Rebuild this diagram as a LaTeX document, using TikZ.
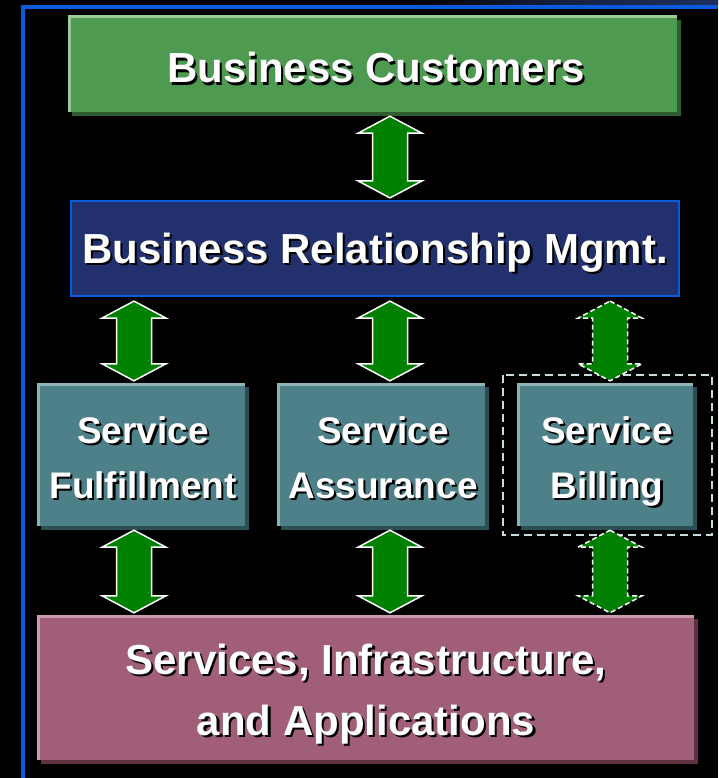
\documentclass[tikz,border=0pt]{standalone}
\usepackage{fontspec}
\setmainfont{Liberation Sans}
\usetikzlibrary{calc,shadows}
\definecolor{frameblue}{HTML}{0A5CDB}
\definecolor{topstrip}{HTML}{1F2E5E}
\definecolor{gfill}{HTML}{4F9A51}
\definecolor{glight}{HTML}{9ACB96}
\definecolor{gshadow}{HTML}{2E5E30}
\definecolor{navy}{HTML}{22306E}
\definecolor{tfill}{HTML}{4D8088}
\definecolor{tlight}{HTML}{8DB3B8}
\definecolor{tshadow}{HTML}{2C4F56}
\definecolor{mfill}{HTML}{A05E78}
\definecolor{mlight}{HTML}{C89AAE}
\definecolor{mshadow}{HTML}{5E3244}
\definecolor{agreen}{HTML}{008000}
\definecolor{dashcol}{HTML}{C8DCDC}
\tikzset{
  bevelbox/.style n args={3}{rectangle, inner sep=0pt, fill=#1,
    drop shadow={shadow xshift=4pt, shadow yshift=-4pt, fill=#3, opacity=1},
    path picture={\draw[#2,line width=5pt]
      (path picture bounding box.south west) -- (path picture bounding box.north west)
      -- (path picture bounding box.north east);}},
  navybox/.style={rectangle, inner sep=0pt, fill=navy, draw=frameblue, line width=2.2pt},
  txt/.style={anchor=base, text=white, inner sep=0pt},
  txtshadow/.style={anchor=base, text=black, inner sep=0pt},
  bigfont/.style={font=\fontsize{42}{50}\selectfont\bfseries},
  midfont/.style={font=\fontsize{37}{44}\selectfont\bfseries},
  blockarrow/.style={fill=agreen, draw=white, line width=1.5pt, line join=miter},
  dasharrow/.style={fill=agreen, draw=white, line width=1.5pt, dash pattern=on 5pt off 3pt},
  dashframe/.style={draw=dashcol, line width=2pt, dash pattern=on 8pt off 5pt}
}
% label with drop shadow: name, x, baseline y, font style, text
\newcommand\shlabel[5]{%
  \node[txtshadow,#4] at (#2+2.2,#3+2.2) {#5};
  \node[txt,#4] (#1) at (#2,#3) {#5};}
% double block arrow: style, x, upper node, lower node
\newcommand\dblarrow[4]{%
  \draw[#1] let \p1=(#3.south), \p2=(#4.north) in
    ({#2pt},{\y1-4pt}) -- ({#2pt+32pt},{\y1-21pt}) -- ({#2pt+17.5pt},{\y1-21pt})
    -- ({#2pt+17.5pt},{\y2+19pt}) -- ({#2pt+32pt},{\y2+19pt}) -- ({#2pt},{\y2+2pt})
    -- ({#2pt-32pt},{\y2+19pt}) -- ({#2pt-17.5pt},{\y2+19pt}) -- ({#2pt-17.5pt},{\y1-21pt})
    -- ({#2pt-32pt},{\y1-21pt}) -- cycle;}
\begin{document}
\begin{tikzpicture}[x=1pt,y=-1pt]
\fill[black] (0,0) rectangle (718,778);
\useasboundingbox (0,0) rectangle (718,778);
% frame
\shade[left color=black, right color=topstrip, middle color=topstrip!70!black] (410,0) rectangle (718,5);
\fill[frameblue] (21,5) rectangle (718,9);
\fill[frameblue] (21,5) rectangle (25,778);
% boxes
\node[bevelbox={gfill}{glight}{gshadow}, minimum width=609pt, minimum height=96pt] (bc) at (372.5,64) {};
\node[navybox, minimum width=608pt, minimum height=95pt] (brm) at (375,248.5) {};
\node[bevelbox={tfill}{tlight}{tshadow}, minimum width=208pt, minimum height=143pt] (sf) at (141,454.5) {};
\node[bevelbox={tfill}{tlight}{tshadow}, minimum width=208pt, minimum height=143pt] (sa) at (381,454.5) {};
\node[bevelbox={tfill}{tlight}{tshadow}, minimum width=176pt, minimum height=143pt] (sb) at (605,454.5) {};
\node[bevelbox={mfill}{mlight}{mshadow}, minimum width=657pt, minimum height=145pt] (sia) at (365.5,687.5) {};
% dashed frame around billing
\draw[dashframe] ([xshift=-14pt,yshift=8pt]sb.north west) rectangle ([xshift=19pt,yshift=-9pt]sb.south east);
% arrows
\dblarrow{blockarrow}{390}{bc}{brm}
\dblarrow{blockarrow}{134}{brm}{sf}
\dblarrow{blockarrow}{390}{brm}{sa}
\dblarrow{dasharrow}{610}{brm}{sb}
\dblarrow{blockarrow}{134}{sf}{sia}
\dblarrow{blockarrow}{390}{sa}{sia}
\dblarrow{dasharrow}{610}{sb}{sia}
% labels
\shlabel{tbc}{376}{83}{bigfont}{Business Customers}
\shlabel{tbrm}{375}{263}{bigfont}{Business Relationship Mgmt.}
\shlabel{tsf1}{143}{443}{midfont}{Service}
\shlabel{tsf2}{143}{498}{midfont}{Fulfillment}
\shlabel{tsa1}{383}{443}{midfont}{Service}
\shlabel{tsa2}{383}{498}{midfont}{Assurance}
\shlabel{tsb1}{607}{443}{midfont}{Service}
\shlabel{tsb2}{607}{498}{midfont}{Billing}
\shlabel{tsia1}{366}{674}{bigfont}{Services, Infrastructure,}
\shlabel{tsia2}{366}{735}{bigfont}{and Applications}
\end{tikzpicture}
\end{document}
